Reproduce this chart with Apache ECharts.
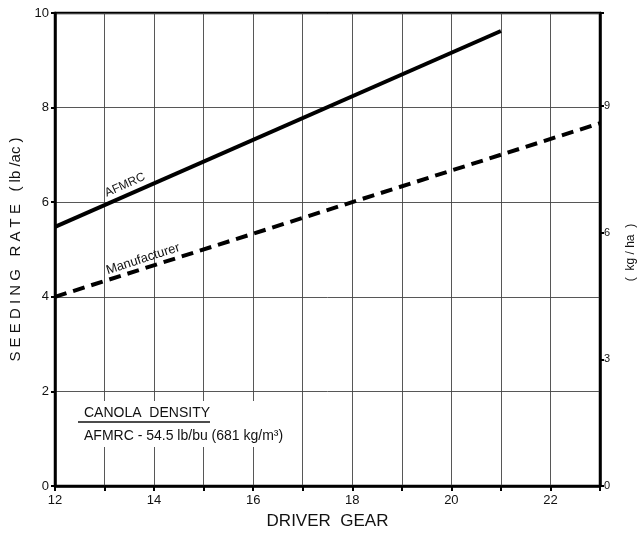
<!DOCTYPE html>
<html>
<head>
<meta charset="utf-8">
<script src="https://cdn.jsdelivr.net/npm/echarts@6/dist/echarts.min.js"></script>
<style>html,body{margin:0;padding:0;background:#fff}#c{width:637px;height:533px}</style>
</head>
<body>
<div id="c"></div>
<script>
// Data
const gearTicks = [12, 13, 14, 15, 16, 17, 18, 19, 20, 21, 22, 23];
const afmrcGear = [12, 21];
const afmrcRate = [5.48, 9.62];
const mfrGear = [12, 23];
const mfrRate = [4.0, 7.67];
const lbacTicks = [0, 2, 4, 6, 8, 10];
const kghaTicks = [0, 3, 6, 9];
const LB_TO_KG = 1.12085;

const chart = echarts.init(document.getElementById('c'), null, {renderer: 'canvas'});
const font = 'Liberation Sans, Arial, sans-serif';
const pair = (xs, ys) => xs.map((x, i) => [x, ys[i]]);

chart.setOption({
  backgroundColor: '#fff',
  animation: false,
  grid: {left: 55, right: 37, top: 13, bottom: 47, outerBoundsMode: 'none', containLabel: false,
    show: true, borderColor: '#000', borderWidth: 2.5, backgroundColor: 'transparent'},
  xAxis: {
    type: 'value', min: gearTicks[0], max: gearTicks[gearTicks.length - 1], interval: 1,
    name: 'DRIVER  GEAR', nameLocation: 'middle', nameGap: 27,
    nameTextStyle: {fontFamily: font, fontSize: 17, color: '#111'},
    axisLine: {lineStyle: {color: '#000', width: 2.5}},
    axisTick: {show: true, inside: false, length: 5, lineStyle: {color: '#000', width: 2}},
    axisLabel: {fontFamily: font, fontSize: 13, color: '#111', margin: 8,
      formatter: v => (v % 2 === 0 ? String(v) : '')},
    splitLine: {show: true, lineStyle: {color: '#444', width: 0.9}}
  },
  yAxis: [{
    type: 'value', min: lbacTicks[0], max: lbacTicks[lbacTicks.length - 1], interval: 2,
    name: 'S E E D I N G   R A T E   ( lb /ac )', nameLocation: 'middle', nameGap: 31, nameRotate: 90,
    nameTextStyle: {fontFamily: font, fontSize: 15, color: '#111'},
    axisLine: {show: true, lineStyle: {color: '#000', width: 2.5}},
    axisTick: {show: true, length: 4, lineStyle: {color: '#000', width: 2}},
    axisLabel: {fontFamily: font, fontSize: 13, color: '#111', margin: 6},
    splitLine: {show: true, lineStyle: {color: '#444', width: 0.9}}
  }, {
    type: 'value', position: 'right', min: 0, max: 10 * LB_TO_KG, interval: 3,
    name: '(  kg / ha  )', nameLocation: 'middle', nameGap: 25, nameRotate: 90,
    nameTextStyle: {fontFamily: font, fontSize: 12, color: '#111', padding: [0, 0, 0, -6]},
    axisLine: {show: true, lineStyle: {color: '#000', width: 2.5}},
    axisTick: {show: true, length: 4, lineStyle: {color: '#000', width: 2}},
    axisLabel: {fontFamily: font, fontSize: 11, color: '#111', margin: 4,
      formatter: v => (kghaTicks.indexOf(v) >= 0 ? String(v) : '')},
    splitLine: {show: false}
  }],
  series: [{
    name: 'AFMRC', type: 'line', data: pair(afmrcGear, afmrcRate), symbol: 'none',
    lineStyle: {color: '#000', width: 4}, z: 5
  }, {
    name: 'Manufacturer', type: 'line', data: pair(mfrGear, mfrRate), symbol: 'none',
    lineStyle: {color: '#000', width: 4, type: [12, 7]}, z: 5
  }],
  graphic: [
    {type: 'rect', shape: {x: 75, y: 401, width: 222, height: 46}, style: {fill: '#fff'}, z: 3},
    {type: 'text', x: 84, y: 413, style: {text: 'CANOLA  DENSITY', font: '14px ' + font, fill: '#111', textVerticalAlign: 'middle'}, z: 4},
    {type: 'line', shape: {x1: 78, y1: 422, x2: 210, y2: 422}, style: {stroke: '#111', lineWidth: 1.3}, z: 4},
    {type: 'text', x: 84, y: 436, style: {text: 'AFMRC - 54.5 lb/bu (681 kg/m³)', font: '14px ' + font, fill: '#111', textVerticalAlign: 'middle'}, z: 4},
    {type: 'text', x: 125, y: 185, rotation: 24 * Math.PI / 180, originX: 0, originY: 0,
      style: {text: 'AFMRC', font: '12px ' + font, fill: '#111', textAlign: 'center', textVerticalAlign: 'middle'}, z: 4},
    {type: 'text', x: 143, y: 259, rotation: 18 * Math.PI / 180, originX: 0, originY: 0,
      style: {text: 'Manufacturer', font: '13px ' + font, fill: '#111', textAlign: 'center', textVerticalAlign: 'middle'}, z: 4}
  ]
});
</script>
</body>
</html>
